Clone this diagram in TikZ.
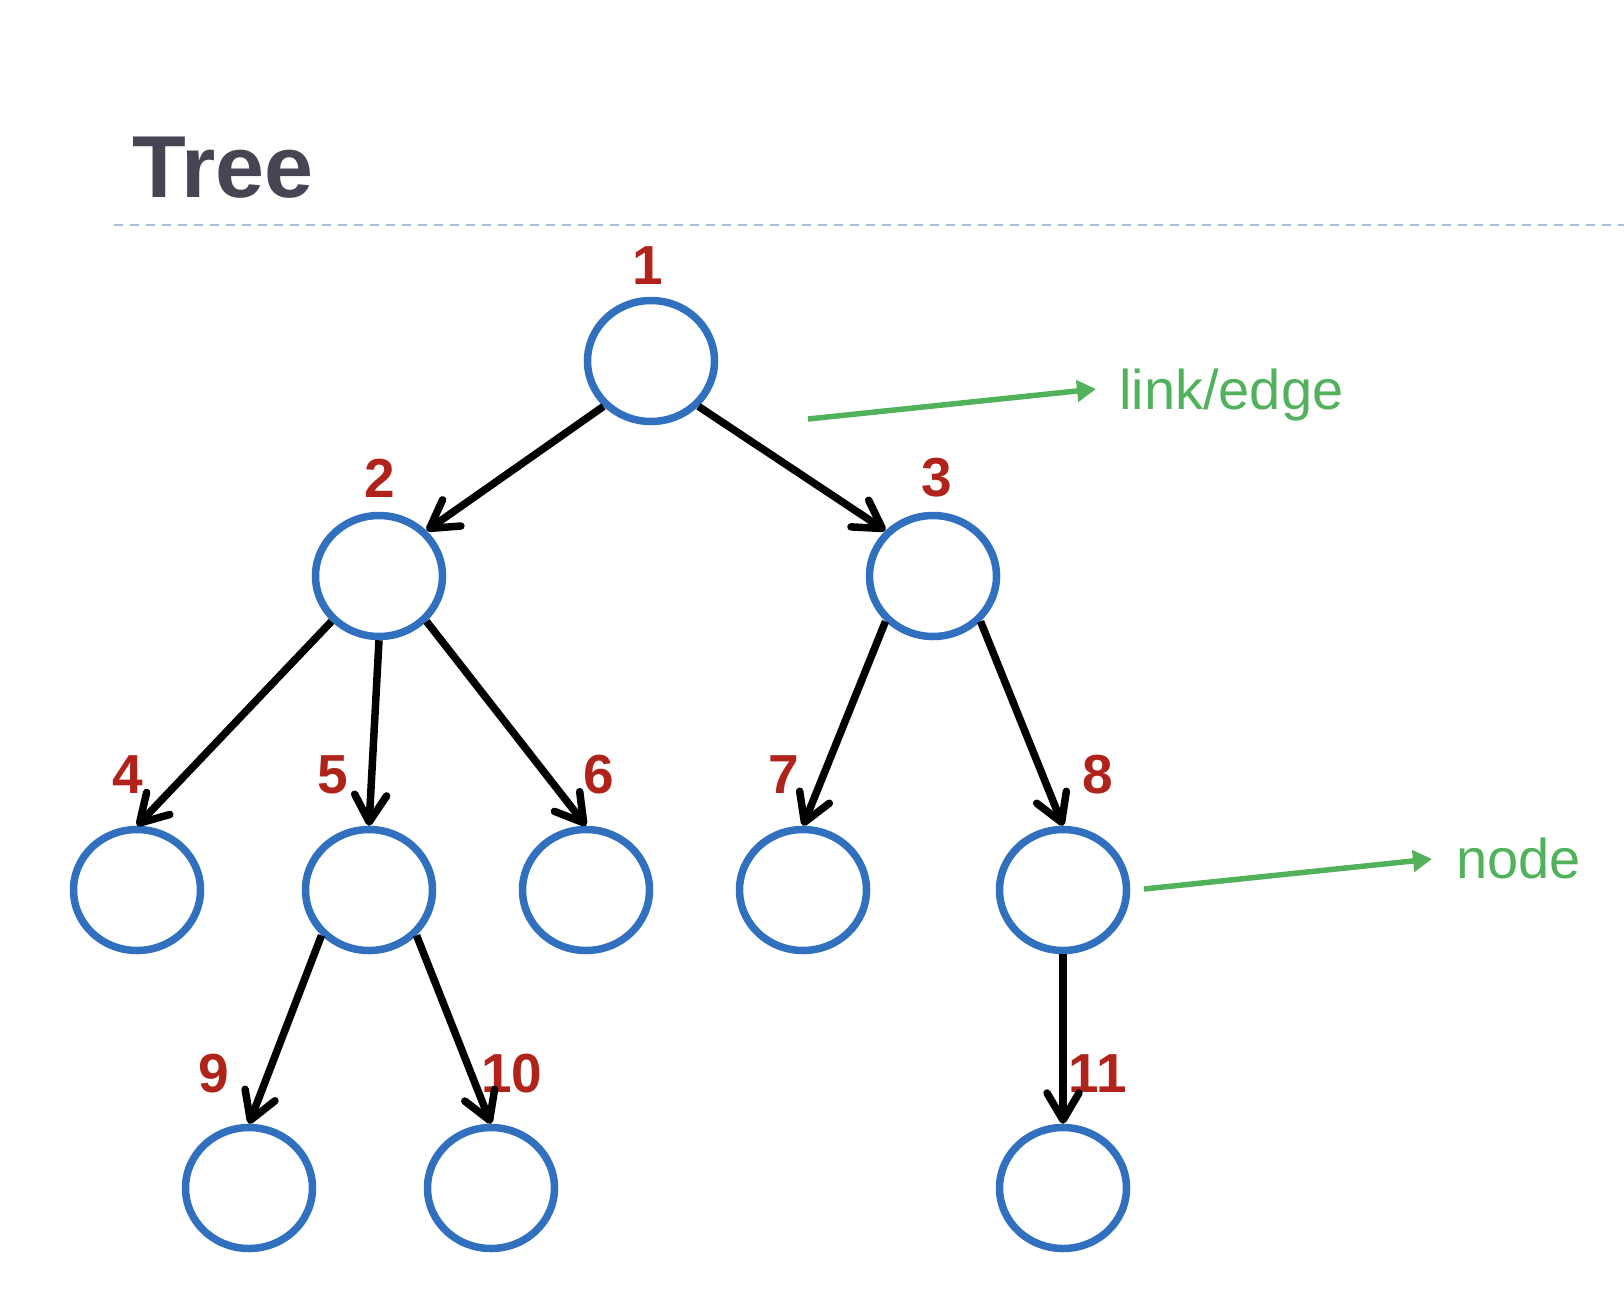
\documentclass[tikz,border=0pt]{standalone}
\usepackage{fontspec}
\setmainfont{Liberation Sans}
\usetikzlibrary{arrows.meta,shapes.geometric}
\definecolor{nodeblue}{HTML}{3070BE}
\definecolor{lblred}{HTML}{B0231A}
\definecolor{notegreen}{HTML}{52B25C}
\definecolor{titlegray}{HTML}{464652}
\definecolor{dashcol}{HTML}{A9BDD6}
\begin{document}
\begin{tikzpicture}[x=1pt,y=-1pt,
  tnode/.style={ellipse,draw=nodeblue,line width=7.5pt,minimum width=127pt,minimum height=121pt,inner sep=0pt},
  lbl/.style={text=lblred,font=\fontsize{55}{60}\selectfont\bfseries},
  tedge/.style={line width=7.5pt,-{Straight Barb[length=27pt,width=32pt,round]}},
  note/.style={text=notegreen,font=\fontsize{56}{64}\selectfont,anchor=base west,inner sep=0pt},
  notearrow/.style={draw=notegreen,line width=5.5pt,-{Triangle[length=19pt,width=21pt]}}]
\useasboundingbox (0,0) rectangle (1624,1312);
% title and rule
\node[anchor=base west,inner sep=0pt,text=titlegray,font=\fontsize{88}{96}\selectfont\bfseries] (title) at (132,197) {Tree};
\coordinate (dl) at (114,225);
\coordinate (dr) at (1624,225);
\draw[dashcol,line width=2pt,dash pattern=on 9pt off 7pt] (dl) -- (dr);
% tree nodes
\node[tnode] (n1) at (651,361) {};
\node[tnode] (n2) at (379,576) {};
\node[tnode] (n3) at (933,576) {};
\node[tnode] (n4) at (137,890) {};
\node[tnode] (n5) at (369,890) {};
\node[tnode] (n6) at (586,890) {};
\node[tnode] (n7) at (803,890) {};
\node[tnode] (n8) at (1063,890) {};
\node[tnode] (n9) at (249,1188) {};
\node[tnode] (n10) at (491,1188) {};
\node[tnode] (n11) at (1063,1188) {};
% labels
\node[lbl] (l1) at (648,266) {1};
\node[lbl] (l2) at (380,478) {2};
\node[lbl] (l3) at (937,478) {3};
\node[lbl] (l4) at (128,775) {4};
\node[lbl] (l5) at (333,775) {5};
\node[lbl] (l6) at (599,775) {6};
\node[lbl] (l7) at (784,775) {7};
\node[lbl] (l8) at (1098,775) {8};
\node[lbl] (l9) at (214,1074) {9};
\node[lbl] (l10) at (512,1074) {10};
\node[lbl] (l11) at (1098,1074) {11};
% edges
\draw[tedge] (n1.south west) -- (n2.north east);
\draw[tedge] (n1.south east) -- (n3.north west);
\draw[tedge] (n2.south west) -- (n4.north);
\draw[tedge] (n2.south) -- (n5.north);
\draw[tedge] (n2.south east) -- (n6.north);
\draw[tedge] (n3.south west) -- (n7.north);
\draw[tedge] (n3.south east) -- (n8.north);
\draw[tedge] (n5.south west) -- (n9.north);
\draw[tedge] (n5.south east) -- (n10.north);
\draw[tedge] (n8.south) -- (n11.north);
% annotations
\node[note] (tlink) at (1119,409) {link/edge};
\node[note] (tnodetxt) at (1456,878) {node};
\coordinate (la) at (808,419);
\coordinate (lb) at (1096,389);
\coordinate (na) at (1144,889);
\coordinate (nb) at (1432,859);
\draw[notearrow] (la) -- (lb);
\draw[notearrow] (na) -- (nb);
\end{tikzpicture}
\end{document}
